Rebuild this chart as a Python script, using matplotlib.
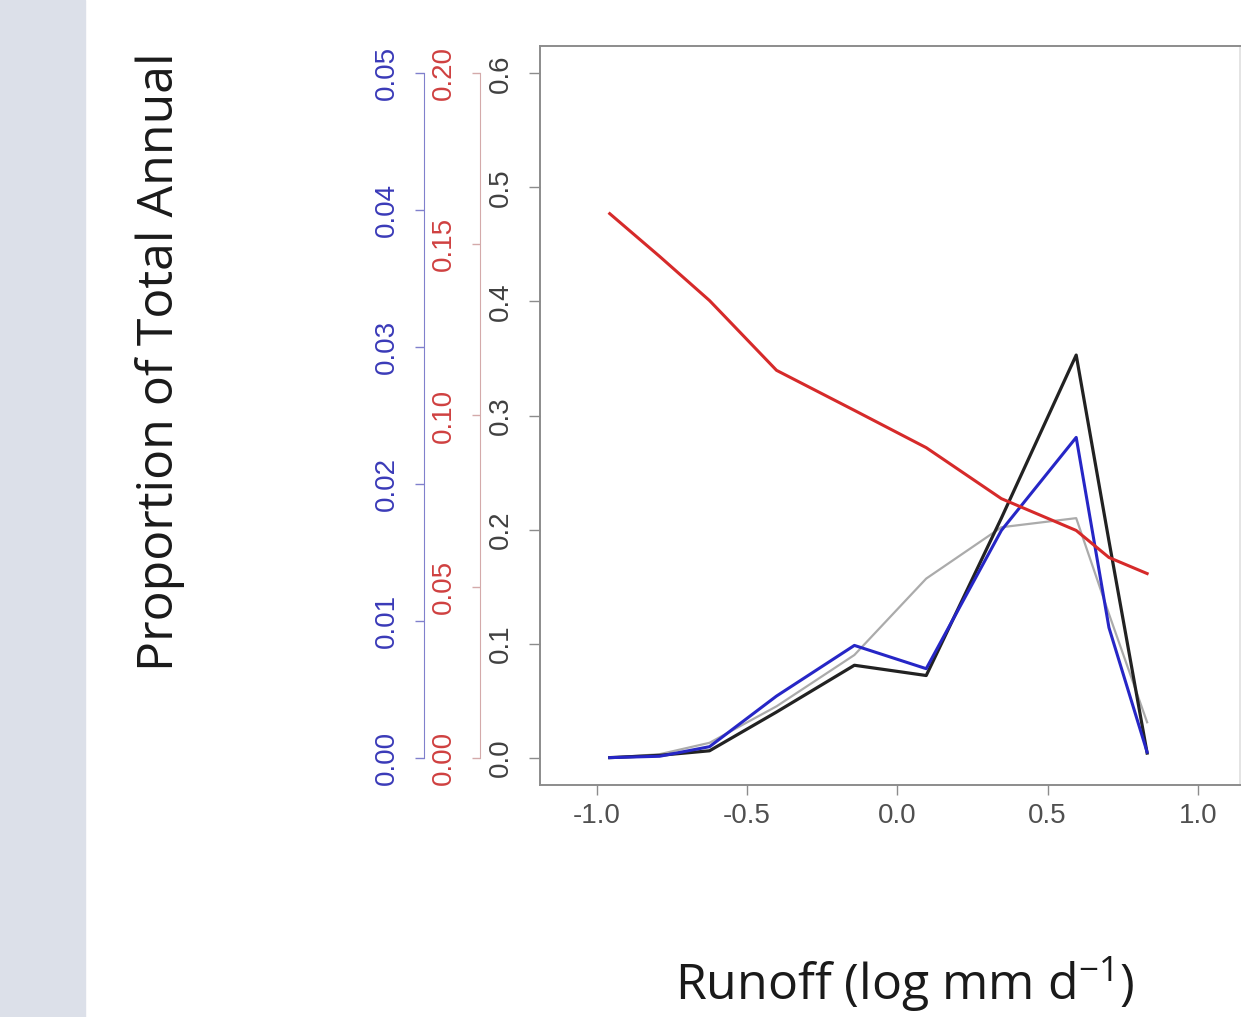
import matplotlib
matplotlib.use("Agg")
import matplotlib.pyplot as plt
from matplotlib.patches import Rectangle

# ---- DATA ----
runoff = [-0.957, -0.791, -0.625, -0.402, -0.143, 0.096, 0.346, 0.595, 0.704, 0.831]
black_vals = [0.000, 0.002, 0.006, 0.040, 0.081, 0.072, 0.210, 0.353, 0.190, 0.004]
gray_vals = [0.000, 0.003, 0.013, 0.045, 0.090, 0.157, 0.202, 0.210, 0.126, 0.031]
blue_vals = [0.0000, 0.0001, 0.0008, 0.0045, 0.0082, 0.0065, 0.0166, 0.0234, 0.0095, 0.0004]
red_vals = [0.159, 0.1465, 0.1336, 0.1132, 0.1015, 0.0906, 0.0757, 0.0664, 0.0585, 0.0538]

x_ticks = [-1.0, -0.5, 0.0, 0.5, 1.0]
black_ticks = [0.0, 0.1, 0.2, 0.3, 0.4, 0.5, 0.6]
red_ticks = [0.00, 0.05, 0.10, 0.15, 0.20]
blue_ticks = [0.00, 0.01, 0.02, 0.03, 0.04, 0.05]

# ---- STYLE ----
plt.rcParams["axes.unicode_minus"] = False
plt.rcParams["font.family"] = ["Open Sans", "DejaVu Sans"]
plt.rcParams["mathtext.default"] = "regular"

TICK_FONT = "Liberation Sans"
TICK_SIZE = 20
BOX_COL = "#8c8c8c"
BLACK = "#222222"
GRAY = "#ababab"
BLUE = "#2626c6"
RED = "#d62a2a"

fig = plt.figure(figsize=(12.44, 10.17), dpi=100)
fig.patches.append(Rectangle((0, 0), 85 / 1244, 1, transform=fig.transFigure,
                             color="#dce0e9", zorder=0))

ax = fig.add_axes([540 / 1244, 1 - 785 / 1017, 700 / 1244, 739 / 1017])
ax.plot(runoff, gray_vals, color=GRAY, lw=1.6, zorder=2)
ax.plot(runoff, black_vals, color=BLACK, lw=2.3, zorder=3)
ax.set_xlim(-1.189, 1.14)
ax.set_ylim(-0.024, 0.624)
ax.set_xticks(x_ticks)
ax.set_xticklabels([f"{v:.1f}" for v in x_ticks], fontsize=TICK_SIZE, color="#505050",
                   fontfamily=TICK_FONT)
ax.set_yticks(black_ticks)
ax.set_yticklabels([f"{v:.1f}" for v in black_ticks], fontsize=TICK_SIZE, color="#404040",
                   fontfamily=TICK_FONT, rotation=90, va="center")
ax.tick_params(axis="x", length=7, width=1, color=BOX_COL, pad=6)
ax.tick_params(axis="y", length=8, width=1, color=BOX_COL, pad=11)
for s in ax.spines.values():
    s.set_color(BOX_COL)
    s.set_linewidth(1.4)
ax.spines["right"].set_color("#e4e4e4")

# red axis
ax_red = ax.twinx()
ax_red.plot(runoff, red_vals, color=RED, lw=2.2, zorder=5)
ax_red.set_ylim(-0.024 / 3, 0.624 / 3)
for name in ["top", "right", "bottom"]:
    ax_red.spines[name].set_visible(False)
ax_red.spines["left"].set_visible(True)
ax_red.spines["left"].set_position(("outward", 43.2))
ax_red.spines["left"].set_bounds(0, 0.2)
ax_red.spines["left"].set_color("#d4aaaa")
ax_red.yaxis.set_ticks_position("left")
ax_red.set_yticks(red_ticks)
ax_red.set_yticklabels([f"{v:.2f}" for v in red_ticks], fontsize=TICK_SIZE, color="#cf4040",
                       fontfamily=TICK_FONT, rotation=90, va="center")
ax_red.tick_params(axis="y", length=6, width=1, color="#d4aaaa", pad=11)

# blue axis
ax_blue = ax.twinx()
ax_blue.plot(runoff, blue_vals, color=BLUE, lw=2.2, zorder=4)
ax_blue.set_ylim(-0.024 / 12, 0.624 / 12)
for name in ["top", "right", "bottom"]:
    ax_blue.spines[name].set_visible(False)
ax_blue.spines["left"].set_visible(True)
ax_blue.spines["left"].set_position(("outward", 83.5))
ax_blue.spines["left"].set_bounds(0, 0.05)
ax_blue.spines["left"].set_color("#8080cc")
ax_blue.yaxis.set_ticks_position("left")
ax_blue.set_yticks(blue_ticks)
ax_blue.set_yticklabels([f"{v:.2f}" for v in blue_ticks], fontsize=TICK_SIZE, color="#3a3ab8",
                        fontfamily=TICK_FONT, rotation=90, va="center")
ax_blue.tick_params(axis="y", length=6.5, width=1, color="#8080cc", pad=11)

# draw red on top of blue
ax_red.set_zorder(ax_blue.get_zorder() + 1)

fig.text(160 / 1244, 1 - 362 / 1017, "Proportion of Total Annual", rotation=90,
         ha="center", va="center", fontsize=36, color="#1a1a1a")
fig.text(905 / 1244, 1 - 985 / 1017, "Runoff (log mm d$^{-1}$)",
         ha="center", va="center", fontsize=36, color="#1a1a1a")

fig.savefig("out.png", dpi=100)
